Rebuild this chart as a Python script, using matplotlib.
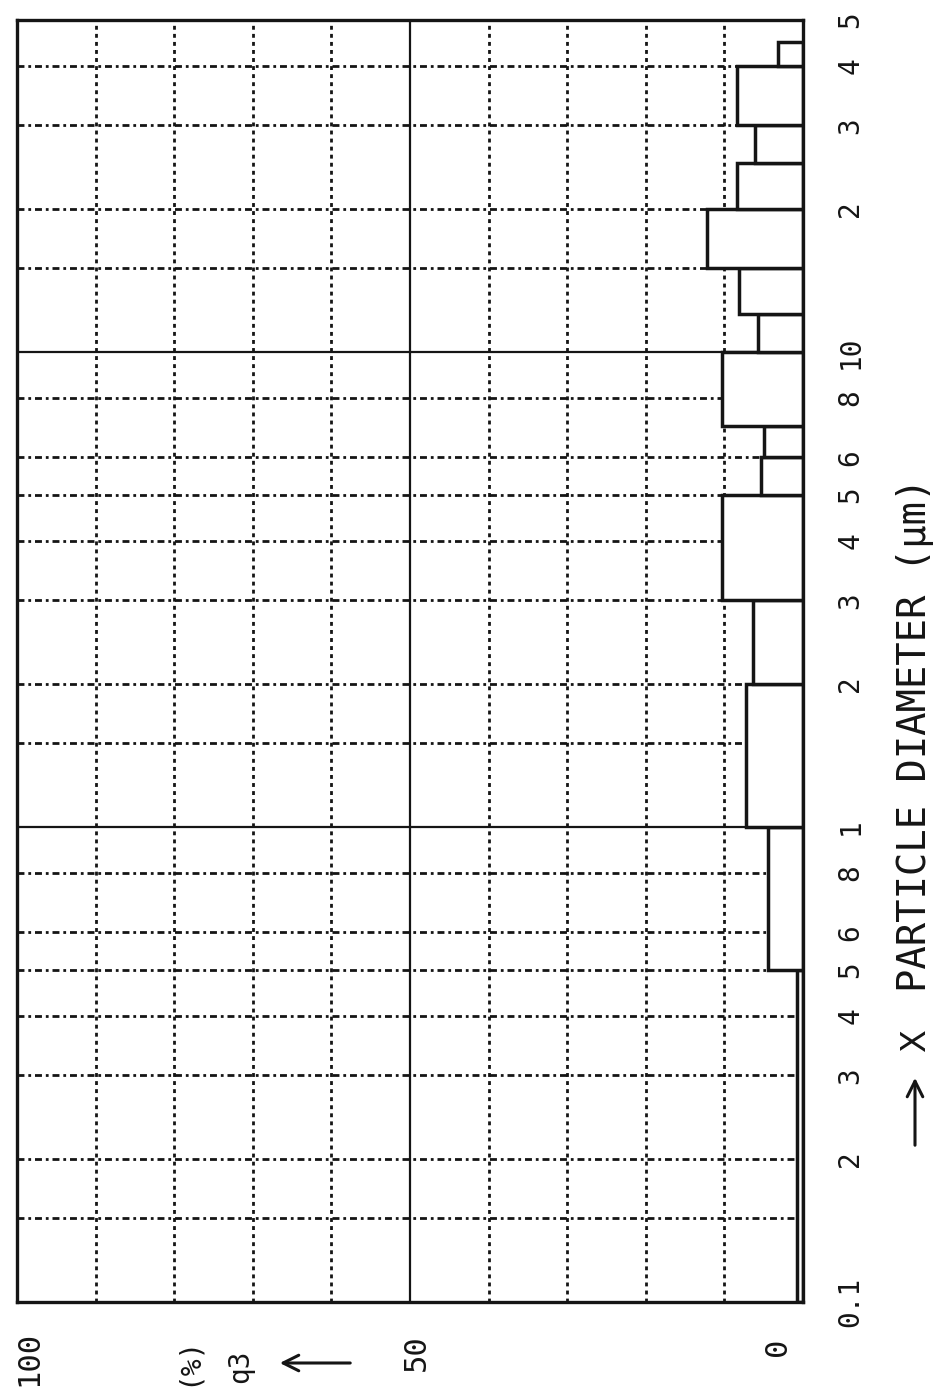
import matplotlib
matplotlib.use("Agg")
import matplotlib.pyplot as plt
from matplotlib.patches import FancyArrowPatch

# ---- data ----
bin_edges = [0.1, 0.5, 1, 2, 3, 5, 6, 7, 10, 12, 15, 20, 25, 30, 40, 45]
q3_values = [0.7, 4.5, 7.3, 6.3, 10.3, 5.4, 4.9, 10.3, 5.7, 8.1, 12.2, 8.4, 6.1, 8.4, 3.2]
diam_ticks = [0.1, 0.2, 0.3, 0.4, 0.5, 0.6, 0.8, 1, 2, 3, 4, 5, 6, 8, 10, 20, 30, 40, 50]
diam_tick_labels = ['0.1', '2', '3', '4', '5', '6', '8', '1', '2', '3', '4', '5', '6', '8',
                    '10', '2', '3', '4', '5']
minor_grid = [0.15, 0.2, 0.3, 0.4, 0.5, 0.6, 0.8,
              1.5, 2, 3, 4, 5, 6, 8,
              15, 20, 30, 40]
major_grid = [1, 10]
pct_grid = [10, 20, 30, 40, 60, 70, 80, 90]
pct_major = [50]
pct_labels = ['100', '50', '0']

INK = '#151515'
FONT = 'DejaVu Sans Mono'

W, H = 939, 1396
fig = plt.figure(figsize=(W / 100, H / 100), dpi=100)
fig.patch.set_facecolor('white')

def fx(px):
    return px / W

def fy(py):
    return 1 - py / H

left_px, right_px, top_px, bot_px = 17, 803, 20, 1302
ax = fig.add_axes([fx(left_px), fy(bot_px), fx(right_px - left_px), (bot_px - top_px) / H])
ax.set_yscale('log')
ax.set_ylim(0.1, 50)
ax.set_xlim(100, 0)
ax.minorticks_off()

# grid
for v in pct_grid:
    ax.axvline(v, color=INK, lw=2.0, ls=(0, (1.4, 1.5)), zorder=1)
for v in pct_major:
    ax.axvline(v, color=INK, lw=1.6, zorder=1)
for v in minor_grid:
    ax.axhline(v, color=INK, lw=2.0, ls=(0, (2.5, 1.4, 1.0, 1.4)), zorder=1)
for v in major_grid:
    ax.axhline(v, color=INK, lw=1.6, zorder=1)

# bars (horizontal because chart is rotated)
lows = bin_edges[:-1]
heights = [bin_edges[i + 1] - bin_edges[i] for i in range(len(lows))]
ax.barh(lows, q3_values, height=heights, left=0, align='edge',
        facecolor='white', edgecolor=INK, linewidth=2.5, zorder=3)

for s in ax.spines.values():
    s.set_linewidth(2.4)
    s.set_color(INK)
    s.set_zorder(5)

ax.set_xticks([])
ax.yaxis.tick_right()
ax.set_yticks(diam_ticks)
ax.set_yticklabels(diam_tick_labels, rotation=90, va='center', ha='left',
                   family=FONT, fontsize=20, color=INK)
ax.tick_params(axis='y', length=0, pad=24)

# q3 axis labels (bottom, rotated)
for txt, x, y in zip(pct_labels, [29, 416, 778], [1358, 1353, 1347]):
    fig.text(fx(x), fy(y), txt, rotation=90, ha='center', va='center',
             family=FONT, fontsize=22, color=INK)
fig.text(fx(188), fy(1361), '(%)', rotation=90, ha='center', va='center',
         family=FONT, fontsize=20, color=INK)
fig.text(fx(240), fy(1366), 'q3', rotation=90, ha='center', va='center',
         family=FONT, fontsize=20, color=INK)
fig.add_artist(FancyArrowPatch((fx(353), fy(1363)), (fx(277), fy(1363)),
                               transform=fig.transFigure, arrowstyle='->',
                               mutation_scale=28, lw=2.2, color=INK))

# particle diameter label (right, rotated)
fig.add_artist(FancyArrowPatch((fx(915), fy(1148)), (fx(915), fy(1075)),
                               transform=fig.transFigure, arrowstyle='->',
                               mutation_scale=28, lw=2.2, color=INK))
fig.text(fx(915), fy(1040), 'X', rotation=90, ha='center', va='center',
         family='DejaVu Sans', fontsize=24, color=INK)
fig.text(fx(915), fy(735), 'PARTICLE DIAMETER (\u03bcm)', rotation=90,
         ha='center', va='center', family=FONT, fontsize=28, color=INK)

fig.savefig('out.png', dpi=100, facecolor='white')
